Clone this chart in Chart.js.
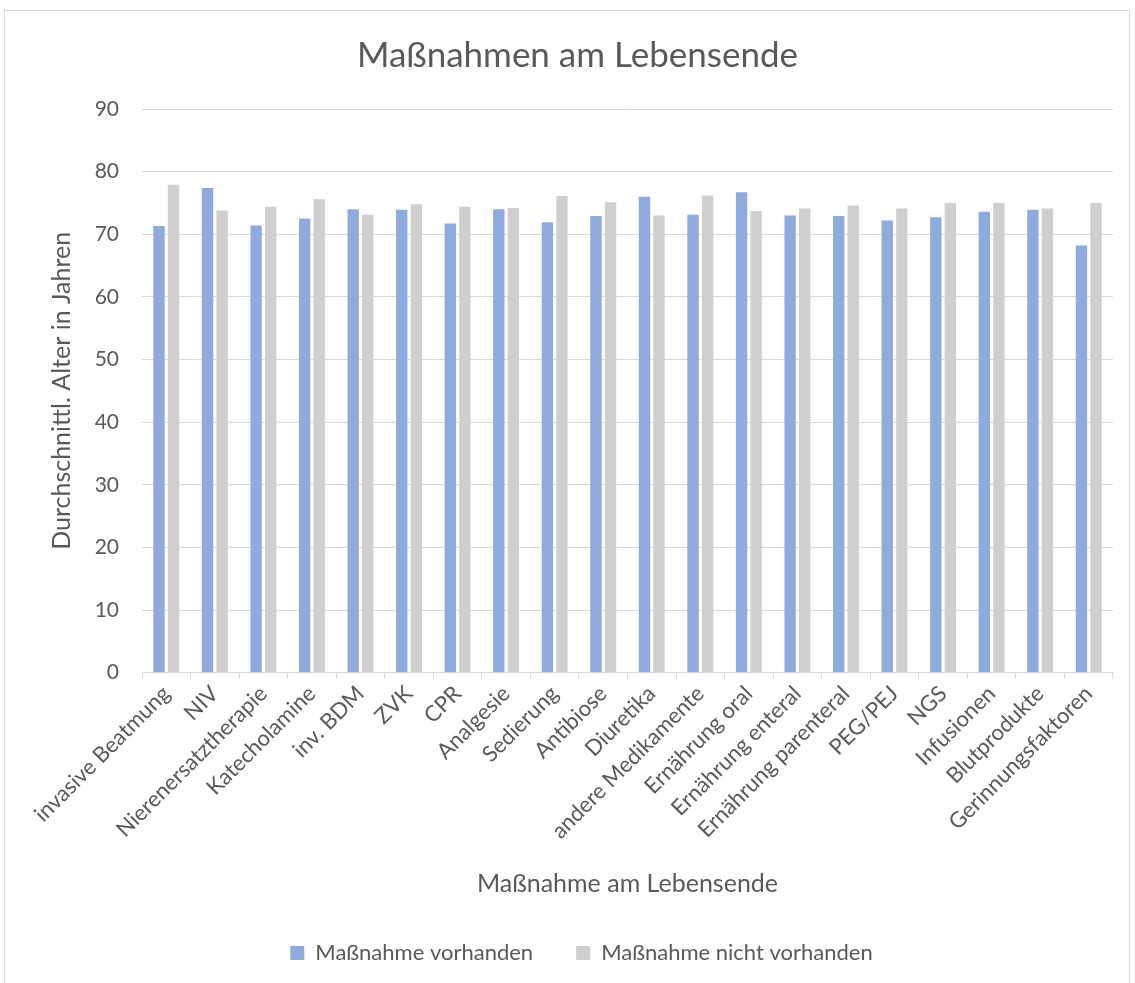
<!DOCTYPE html>
<html>
<head>
<meta charset="utf-8">
<script src="https://cdn.jsdelivr.net/npm/chart.js@4.4.0/dist/chart.umd.min.js"></script>
<style>
  html, body { margin: 0; padding: 0; background: #fff; }
  #frame { position: absolute; left: 4px; top: 10px; width: 1126px; height: 980px; border: 1px solid #D9D9D9; box-sizing: border-box; }
  #wrap { position: absolute; left: 0; top: 0; width: 1135px; height: 983px; }
</style>
</head>
<body>
<div id="frame"></div>
<div id="wrap"><canvas id="c" width="1135" height="983"></canvas></div>
<script>
const categories = ["invasive Beatmung", "NIV", "Nierenersatztherapie", "Katecholamine", "inv. BDM", "ZVK", "CPR", "Analgesie", "Sedierung", "Antibiose", "Diuretika", "andere Medikamente", "Ernährung oral", "Ernährung enteral", "Ernährung parenteral", "PEG/PEJ", "NGS", "Infusionen", "Blutprodukte", "Gerinnungsfaktoren"];
const vorhanden = [71.3, 77.4, 71.4, 72.5, 74.0, 73.9, 71.7, 74.0, 71.9, 72.9, 76.0, 73.1, 76.7, 73.0, 72.9, 72.2, 72.7, 73.6, 73.9, 68.2];
const nichtVorhanden = [77.9, 73.8, 74.4, 75.6, 73.1, 74.8, 74.4, 74.2, 76.1, 75.1, 73.0, 76.2, 73.7, 74.1, 74.6, 74.1, 75.0, 75.0, 74.1, 75.0];
const yTicks = [0, 10, 20, 30, 40, 50, 60, 70, 80, 90];

const font = "Lato, 'Open Sans', sans-serif";
Chart.defaults.font.family = font;
Chart.defaults.color = '#595959';

// shift centred title and legend slightly right, as in the reference
const centreShift = {
  id: 'centreShift',
  afterLayout(chart) {
    if (chart.titleBlock) { chart.titleBlock.left += 22; }
    if (chart.legend) { chart.legend.left += 30; }
  }
};

new Chart(document.getElementById('c'), {
  type: 'bar',
  data: {
    labels: categories,
    datasets: [
      { label: 'Maßnahme vorhanden', data: vorhanden, backgroundColor: '#8FAADC', categoryPercentage: 0.6, barPercentage: 0.78 },
      { label: 'Maßnahme nicht vorhanden', data: nichtVorhanden, backgroundColor: '#D0CECE', categoryPercentage: 0.6, barPercentage: 0.78 }
    ]
  },
  options: {
    responsive: false,
    animation: false,
    layout: { padding: { left: 20, right: 22, top: 35, bottom: 9 } },
    plugins: {
      title: { display: true, text: 'Maßnahmen am Lebensende', font: { size: 35, weight: 'normal', family: font }, color: '#595959', padding: { top: 0, bottom: 32 } },
      legend: { position: 'bottom', labels: { boxWidth: 14, boxHeight: 14, font: { size: 22 }, color: '#595959', padding: 43 } },
      tooltip: { enabled: false }
    },
    scales: {
      x: {
        afterFit: (scale) => { scale.paddingLeft = 0; },
        grid: { display: true, offset: true, drawOnChartArea: false, drawTicks: true, tickLength: 6, color: '#D9D9D9' },
        border: { display: true, color: '#D9D9D9' },
        ticks: { minRotation: 45, maxRotation: 45, font: { size: 22 }, color: '#595959', autoSkip: false, padding: 2 },
        title: { display: true, text: 'Maßnahme am Lebensende', font: { size: 25 }, color: '#595959', padding: { top: 23, bottom: 0 } }
      },
      y: {
        min: 0, max: 90,
        afterFit: (scale) => { scale.width = 122; },
        afterBuildTicks: (ax) => { ax.ticks = yTicks.map(v => ({ value: v })); },
        grid: { color: '#D9D9D9', lineWidth: 1, drawTicks: false },
        border: { display: false },
        ticks: { font: { size: 21 }, color: '#595959', padding: 23 },
        title: { display: true, text: 'Durchschnittl. Alter in Jahren', font: { size: 25 }, color: '#595959', padding: { top: 27, bottom: 9 } }
      }
    }
  },
  plugins: [centreShift]
});
</script>
</body>
</html>
